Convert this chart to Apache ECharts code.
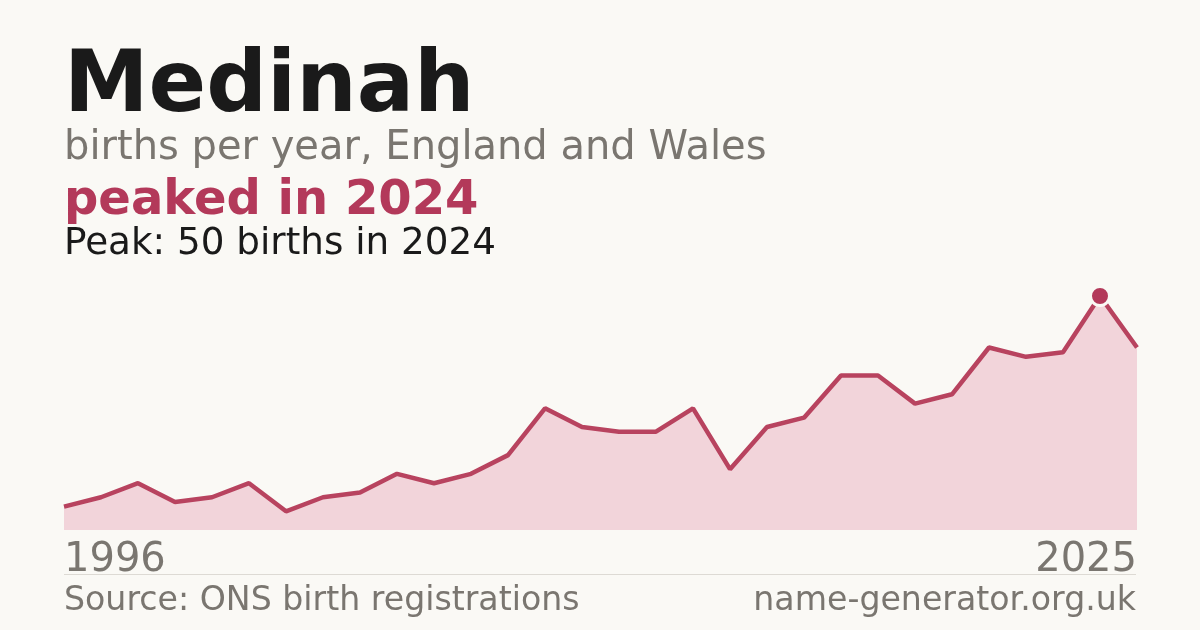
<!DOCTYPE html>
<html><head><meta charset="utf-8">
<script src="https://cdn.jsdelivr.net/npm/echarts@6/dist/echarts.min.js"></script>
<style>html,body{margin:0;padding:0;background:#faf9f5}#c{width:1200px;height:630px}</style>
</head><body><div id="c"></div>
<script>
var years = [1996,1997,1998,1999,2000,2001,2002,2003,2004,2005,2006,2007,2008,2009,2010,2011,2012,2013,2014,2015,2016,2017,2018,2019,2020,2021,2022,2023,2024,2025];
var births = [5,7,10,6,7,10,4,7,8,12,10,12,16,26,22,21,21,26,13,22,24,33,33,27,29,39,37,38,50,39];
var peakYear = 2024;
var FONT = 'DejaVu Sans';
var chart = echarts.init(document.getElementById('c'));
var seriesData = births.map(function(v,i){
  if (years[i] === peakYear) {
    return {value:v, symbol:'circle', symbolSize:19, itemStyle:{color:'#b3395a', borderColor:'#faf9f5', borderWidth:3}};
  }
  return {value:v, symbol:'none'};
});
chart.setOption({
  backgroundColor:'#faf9f5',
  animation:false,
  grid:{left:64,right:63,top:296,bottom:100},
  xAxis:{type:'category',data:years.map(String),boundaryGap:false,
    axisLine:{show:false},axisTick:{show:false},splitLine:{show:false},
    axisLabel:{interval:function(i){return i===0||i===years.length-1;},
      fontFamily:FONT,fontSize:40,color:'#7a7670',margin:11,
      alignMinLabel:'left',alignMaxLabel:'right'}},
  yAxis:{type:'value',min:0,max:50,show:false},
  series:[{type:'line',data:seriesData,showSymbol:true,
    lineStyle:{color:'#b8435f',width:4.5},
    areaStyle:{color:'#f2d4da',opacity:1},
    itemStyle:{color:'#b3395a'},z:3}],
  graphic:[
    {type:'text',left:64,top:46,style:{text:'Medinah',fontFamily:FONT,fontWeight:'bold',fontSize:85,fill:'#1a1a1a'}},
    {type:'text',left:64,top:129,style:{text:'births per year, England and Wales',fontFamily:FONT,fontSize:40,fill:'#7a7670'}},
    {type:'text',left:64,top:178,style:{text:'peaked in 2024',fontFamily:FONT,fontWeight:'bold',fontSize:48,fill:'#b3395a'}},
    {type:'text',left:64,top:226,style:{text:'Peak: 50 births in 2024',fontFamily:FONT,fontSize:37.3,fill:'#1a1a1a'}},
    {type:'line',shape:{x1:64,y1:574.5,x2:1136,y2:574.5},style:{stroke:'#dddad4',lineWidth:1}},
    {type:'text',left:64,top:585,style:{text:'Source: ONS birth registrations',fontFamily:FONT,fontSize:33.2,fill:'#7a7670'}},
    {type:'text',right:64,top:585,style:{text:'name-generator.org.uk',fontFamily:FONT,fontSize:33.2,fill:'#7a7670'}}
  ]
});
</script></body></html>
